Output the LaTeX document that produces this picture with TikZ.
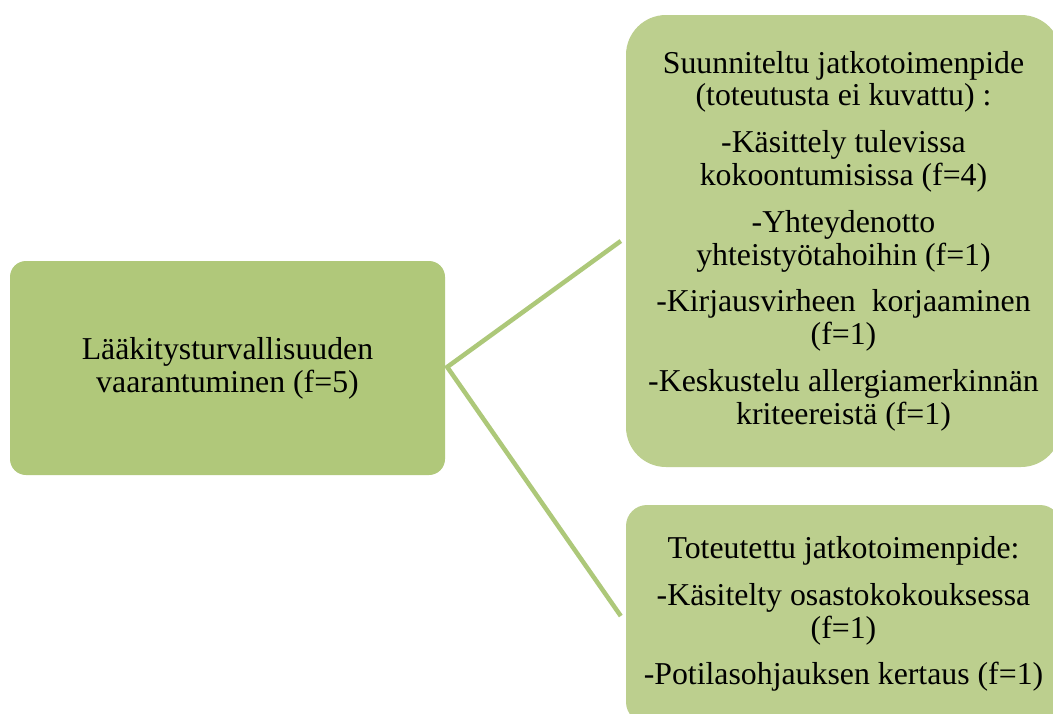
\documentclass[tikz,border=0pt]{standalone}
\usepackage{fontspec}
\setmainfont{Liberation Serif}
\definecolor{leftfill}{HTML}{B0C87A}
\definecolor{rightfill}{HTML}{BCCF8E}
\definecolor{linkcol}{HTML}{ADC879}
\begin{document}
\begin{tikzpicture}[x=1pt,y=-1pt,
  txt/.style={align=center,text=black,inner sep=0pt,
    font=\fontsize{31.8pt}{32.8pt}\selectfont},
  mainbox/.style={txt,fill=leftfill,rounded corners=16pt,
    minimum width=435pt,minimum height=214pt},
  subbox/.style={txt,fill=rightfill,minimum width=435pt},
  link/.style={draw=linkcol,line width=4.5pt,line join=miter}]
\clip (0,0) rectangle (1053,713);
\fill[white] (0,0) rectangle (1053,713);

\node[mainbox] (cause) at (227.5,368) {L\"a\"akitysturvallisuuden\\vaarantuminen (f=5)};

\node[subbox,rounded corners=40pt,minimum height=452pt] (plan) at (843.5,241)
  {Suunniteltu jatkotoimenpide\\(toteutusta ei kuvattu) :\\[14pt]
   -K\"asittely tulevissa\\kokoontumisissa (f=4)\\[14pt]
   -Yhteydenotto\\yhteisty\"otahoihin (f=1)\\[14pt]
   -Kirjausvirheen\ \ korjaaminen\\(f=1)\\[14pt]
   -Keskustelu allergiamerkinn\"an\\kriteereist\"a (f=1)};

\node[subbox,rounded corners=21pt,minimum height=218pt] (done) at (843.5,614)
  {Toteutettu jatkotoimenpide:\\[14pt]
   -K\"asitelty osastokokouksessa\\(f=1)\\[14pt]
   -Potilasohjauksen kertaus (f=1)};

\coordinate (fork) at ([xshift=2pt,yshift=1pt]cause.east);
\draw[link] ([xshift=-5pt]plan.west) -- (fork) -- ([xshift=-5pt,yshift=-2pt]done.west);
\end{tikzpicture}
\end{document}
